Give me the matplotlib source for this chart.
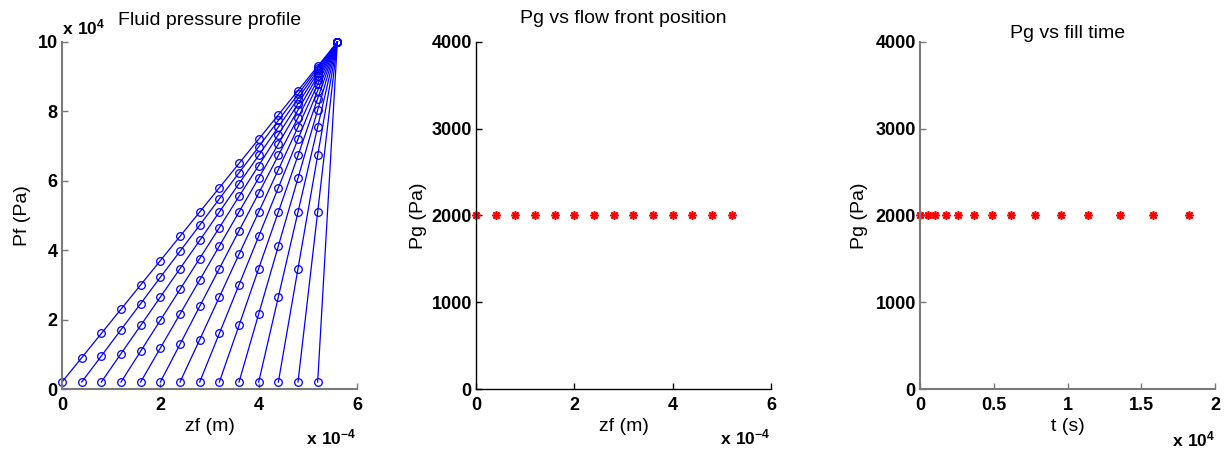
import matplotlib
matplotlib.use('Agg')
import matplotlib.pyplot as plt

plt.rcParams['font.family'] = ['Liberation Sans', 'DejaVu Sans']
plt.rcParams['mathtext.fontset'] = 'custom'
plt.rcParams['mathtext.rm'] = 'Liberation Sans'
plt.rcParams['mathtext.bf'] = 'Liberation Sans:bold'

# grid positions along the sample (m) and flow front positions
z_grid = [0.0, 0.4e-4, 0.8e-4, 1.2e-4, 1.6e-4, 2.0e-4, 2.4e-4, 2.8e-4,
          3.2e-4, 3.6e-4, 4.0e-4, 4.4e-4, 4.8e-4, 5.2e-4, 5.6e-4]
front_pos = [0.0, 0.4e-4, 0.8e-4, 1.2e-4, 1.6e-4, 2.0e-4, 2.4e-4,
             2.8e-4, 3.2e-4, 3.6e-4, 4.0e-4, 4.4e-4, 4.8e-4, 5.2e-4]

# fluid pressure (kPa) at the grid points behind each front
pf_profiles = [
    [2, 9, 16, 23, 30, 37, 44, 51, 58, 65, 72, 79, 86, 93, 100],
    [2, 9.5, 17.1, 24.6, 32.2, 39.7, 47.2, 54.8, 62.3, 69.8, 77.4, 84.9, 92.5, 100],
    [2, 10.2, 18.3, 26.5, 34.7, 42.8, 51, 59.2, 67.3, 75.5, 83.7, 91.8, 100],
    [2, 10.9, 19.8, 28.7, 37.6, 46.5, 55.5, 64.4, 73.3, 82.2, 91.1, 100],
    [2, 11.8, 21.6, 31.4, 41.2, 51, 60.8, 70.6, 80.4, 90.2, 100],
    [2, 12.9, 23.8, 34.7, 45.6, 56.4, 67.3, 78.2, 89.1, 100],
    [2, 14.2, 26.5, 38.8, 51, 63.2, 75.5, 87.8, 100],
    [2, 16, 30, 44, 58, 72, 86, 100],
    [2, 18.3, 34.7, 51, 67.3, 83.7, 100],
    [2, 21.6, 41.2, 60.8, 80.4, 100],
    [2, 26.5, 51, 75.5, 100],
    [2, 34.7, 67.3, 100],
    [2, 51, 100],
    [2, 100],
]

# gas pressure at each front position and the fill times
pg_values = [2000, 2000, 2000, 2000, 2000, 2000, 2000,
             2000, 2000, 2000, 2000, 2000, 2000, 2000]
fill_time = [0, 540, 1020, 1730, 2580, 3630, 4850, 6200,
             7800, 9560, 11420, 13560, 15800, 18240]

W, H = 1224.0, 451.0
ax_w, ax_h = 295 / W, 347 / H
ax_b = 62 / H

fig = plt.figure(figsize=(12.24, 4.51), dpi=100)
ax1 = fig.add_axes([62 / W, ax_b, ax_w, ax_h])
ax2 = fig.add_axes([476 / W, ax_b, ax_w, ax_h])
ax3 = fig.add_axes([920 / W, ax_b, ax_w, ax_h])

gray = '#7a7a7a'
tick_kw = dict(fontsize=13, fontweight='bold')
off_kw = dict(fontsize=12.5)
star = (8, 2, 0)  # matlab style asterisk


def style_axes(ax, spine_color, lw):
    for side in ['top', 'right']:
        ax.spines[side].set_visible(False)
    for side in ['left', 'bottom']:
        ax.spines[side].set_color(spine_color)
        ax.spines[side].set_linewidth(lw)
    ax.tick_params(direction='in', length=4, width=1, color=spine_color)
    ax.tick_params(axis='x', pad=6)
    ax.tick_params(axis='y', pad=3)


# Fluid pressure profile
for k in range(len(pf_profiles)):
    zz = z_grid[k:]
    pp = [p * 1000 for p in pf_profiles[k]]
    ax1.plot(zz, pp, '-o', color='blue', linewidth=0.9, markersize=5.5,
             markerfacecolor='none', markeredgewidth=0.9, clip_on=False)
ax1.set_xlim(0, 6e-4)
ax1.set_ylim(0, 1e5)
ax1.set_xticks([0, 2e-4, 4e-4, 6e-4], ['0', '2', '4', '6'], **tick_kw)
ax1.set_yticks([0, 2e4, 4e4, 6e4, 8e4, 1e5], ['0', '2', '4', '6', '8', '10'], **tick_kw)
ax1.set_title('Fluid pressure profile', fontsize=14, pad=12)
ax1.set_xlabel('zf (m)', fontsize=14)
ax1.set_ylabel('Pf (Pa)', fontsize=14)
ax1.xaxis.set_label_coords(0.5, -0.085)
ax1.yaxis.set_label_coords(-0.105, 0.5)
ax1.text(0.0, 1.012, r'$\mathbf{x\ 10^{4}}$', transform=ax1.transAxes,
         ha='left', va='bottom', **off_kw)
ax1.text(1.0, -0.14, r'$\mathbf{x\ 10^{-4}}$', transform=ax1.transAxes,
         ha='right', va='center', **off_kw)
style_axes(ax1, gray, 1.5)

# Pg vs flow front position
ax2.plot(front_pos, pg_values, marker=star, color='red', markersize=6,
         markeredgewidth=1.2, linestyle='none', clip_on=False)
ax2.set_xlim(0, 6e-4)
ax2.set_ylim(0, 4000)
ax2.set_xticks([0, 2e-4, 4e-4, 6e-4], ['0', '2', '4', '6'], **tick_kw)
ax2.set_yticks([0, 1000, 2000, 3000, 4000], ['0', '1000', '2000', '3000', '4000'], **tick_kw)
ax2.set_title('Pg vs flow front position', fontsize=14, pad=14)
ax2.set_xlabel('zf (m)', fontsize=14)
ax2.set_ylabel('Pg (Pa)', fontsize=14)
ax2.xaxis.set_label_coords(0.5, -0.085)
ax2.yaxis.set_label_coords(-0.165, 0.5)
ax2.text(1.0, -0.14, r'$\mathbf{x\ 10^{-4}}$', transform=ax2.transAxes,
         ha='right', va='center', **off_kw)
style_axes(ax2, 'black', 1.0)

# Pg vs fill time
ax3.plot(fill_time, pg_values, marker=star, color='red', markersize=6,
         markeredgewidth=1.2, linestyle='none', clip_on=False)
ax3.set_xlim(0, 2e4)
ax3.set_ylim(0, 4000)
ax3.set_xticks([0, 5000, 10000, 15000, 20000], ['0', '0.5', '1', '1.5', '2'], **tick_kw)
ax3.set_yticks([0, 1000, 2000, 3000, 4000], ['0', '1000', '2000', '3000', '4000'], **tick_kw)
ax3.set_title('Pg vs fill time', fontsize=14, pad=3)
ax3.set_xlabel('t (s)', fontsize=14)
ax3.set_ylabel('Pg (Pa)', fontsize=14)
ax3.xaxis.set_label_coords(0.5, -0.085)
ax3.yaxis.set_label_coords(-0.175, 0.5)
ax3.text(1.0, -0.145, r'$\mathbf{x\ 10^{4}}$', transform=ax3.transAxes,
         ha='right', va='center', **off_kw)
style_axes(ax3, gray, 1.5)

fig.savefig('out.png', dpi=100)
